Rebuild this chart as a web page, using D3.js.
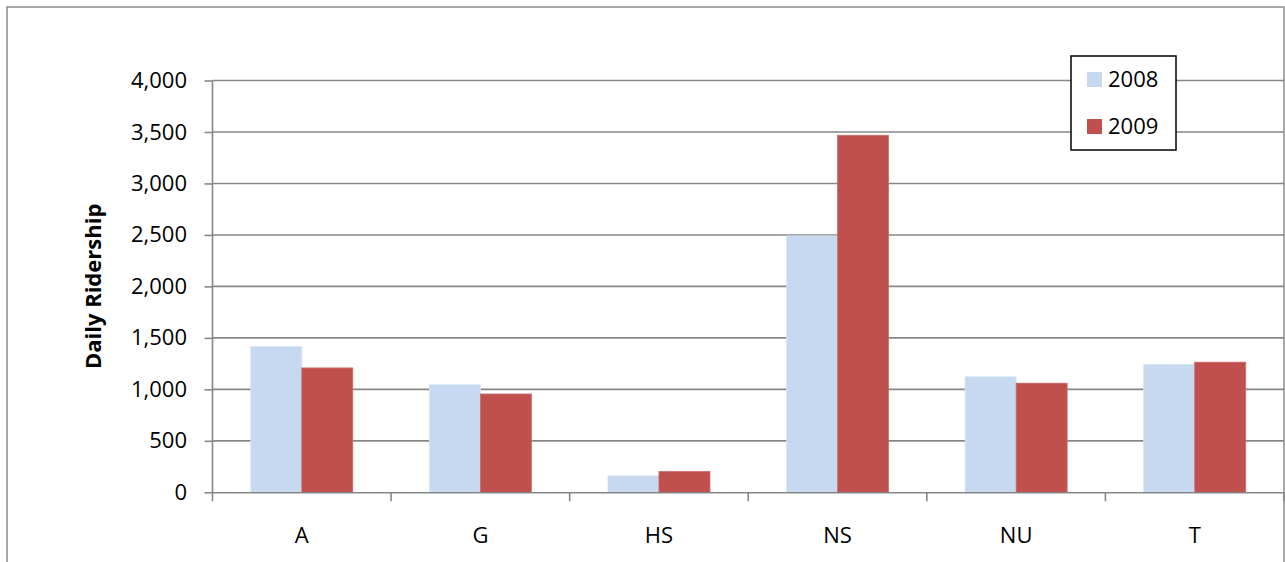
<!DOCTYPE html>
<html>
<head>
<meta charset="utf-8">
<script src="https://cdn.jsdelivr.net/npm/d3@7/dist/d3.min.js"></script>
<style>
  html, body { margin: 0; padding: 0; background: #fff; }
  svg { display: block; }
  text { font-family: "Open Sans", "Noto Sans", sans-serif; fill: #000; }
</style>
</head>
<body>
<svg id="chart" width="1285" height="562"></svg>
<script>
const categories = ["A", "G", "HS", "NS", "NU", "T"];
const seriesNames = ["2008", "2009"];
const values2008 = [1415, 1045, 160, 2490, 1122, 1241];
const values2009 = [1208, 955, 203, 3468, 1060, 1264];
const yTicks = [0, 500, 1000, 1500, 2000, 2500, 3000, 3500, 4000];
const colors = ["#C6D9F1", "#C0504D"];

const svg = d3.select("#chart");
const plot = { left: 212.5, right: 1284, top: 80.5, bottom: 492.3 };

const x0 = d3.scaleBand().domain(categories).range([plot.left, plot.right]).padding(0);
const x1 = d3.scaleBand().domain(seriesNames).range([0, x0.bandwidth()])
  .paddingInner(0).paddingOuter(0.75);
const y = d3.scaleLinear().domain([0, 4000]).range([plot.bottom, plot.top]);

// outer chart border
svg.append("rect").attr("x", 7).attr("y", 7).attr("width", 1277).attr("height", 600)
  .attr("fill", "none").attr("stroke", "#8c8c8c").attr("stroke-width", 1.5);

// gridlines
svg.append("g").selectAll("line").data(yTicks.filter(d => d > 0)).join("line")
  .attr("x1", plot.left).attr("x2", plot.right)
  .attr("y1", d => y(d)).attr("y2", d => y(d))
  .attr("stroke", "#878787").attr("stroke-width", 1.6);

// bars
const series = [values2008, values2009];
const g = svg.append("g");
seriesNames.forEach((s, si) => {
  g.append("g").selectAll("rect").data(categories).join("rect")
    .attr("x", (c) => x0(c) + x1(s))
    .attr("width", x1.bandwidth())
    .attr("y", (c, i) => y(series[si][i]))
    .attr("height", (c, i) => y(0) - y(series[si][i]))
    .attr("fill", colors[si])
    .attr("stroke", si === 0 ? "#d6e3f5" : "#cc6e6b")
    .attr("stroke-width", 0.8);
});

// y axis
const yAxis = d3.axisLeft(y).tickValues(yTicks).tickFormat(d3.format(",")).tickSize(8).tickPadding(17.5);
const yg = svg.append("g").attr("transform", `translate(${plot.left},0)`).call(yAxis);
yg.select(".domain").attr("stroke", "#878787").attr("stroke-width", 1.6).attr("d", `M0,${plot.top}V${plot.bottom}`);
yg.selectAll(".tick line").attr("stroke", "#878787").attr("stroke-width", 1.6);
yg.selectAll(".tick text").attr("font-size", 22).attr("font-family", "'Open Sans', sans-serif").attr("fill", "#000");

// x axis
const xAxis = d3.axisBottom(x0).tickSize(0).tickPadding(35);
const xg = svg.append("g").attr("transform", `translate(0,${plot.bottom})`).call(xAxis);
xg.select(".domain").attr("stroke", "#878787").attr("stroke-width", 1.6);
xg.selectAll(".tick text").attr("font-size", 22).attr("font-family", "'Open Sans', sans-serif").attr("fill", "#000");
// category boundary tick marks
const bounds = categories.map(c => x0(c)).concat([plot.right]);
svg.append("g").selectAll("line").data(bounds).join("line")
  .attr("x1", d => d).attr("x2", d => d)
  .attr("y1", plot.bottom).attr("y2", plot.bottom + 9)
  .attr("stroke", "#878787").attr("stroke-width", 1.6);

// y title
svg.append("text")
  .attr("transform", `translate(101,${(plot.top + plot.bottom) / 2}) rotate(-90)`)
  .attr("text-anchor", "middle")
  .attr("font-size", 22).attr("font-weight", "bold")
  .text("Daily Ridership");

// legend
const lg = svg.append("g");
lg.append("rect").attr("x", 1071).attr("y", 56).attr("width", 105).attr("height", 94)
  .attr("fill", "#fff").attr("stroke", "#000").attr("stroke-width", 1.5);
seriesNames.forEach((s, i) => {
  const cy = 79.5 + i * 47;
  lg.append("rect").attr("x", 1087).attr("y", cy - 7.5).attr("width", 15).attr("height", 15)
    .attr("fill", colors[i]);
  lg.append("text").attr("x", 1108).attr("y", cy).attr("dy", "0.36em")
    .attr("font-size", 22).text(s);
});
</script>
</body>
</html>
